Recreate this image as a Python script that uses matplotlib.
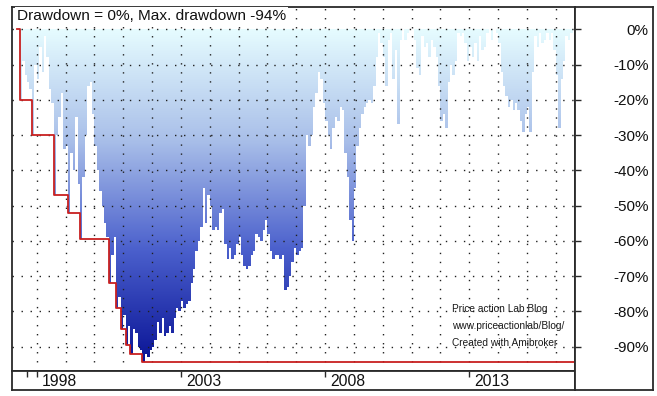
import numpy as np
import pandas as pd
import matplotlib
matplotlib.use("Agg")
import matplotlib.pyplot as plt
from matplotlib.colors import LinearSegmentedColormap
from matplotlib.path import Path
from matplotlib.transforms import blended_transform_factory

plt.rcParams['font.family'] = ['Liberation Sans', 'DejaVu Sans']

# monthly drawdown in %, one value per month starting May 1997
first_month = '1997-05'
drawdown = [
    0, -20, -9, -13, -15, -17, -30, -10, -14, -5, -12, -2, -8, -17, -21, -47,
    -30, -25, -18, -34, -33, -52, -35, -40, -25, -44, -59.5, -42, -30, -16, -15, -24,
    -33, -40, -46, -50, -55, -59, -72, -64, -59, -79, -76, -85, -81, -89.5, -84, -92,
    -85, -86, -90, -91, -94.2, -92, -93, -91, -90, -88, -83, -86, -82, -87, -86, -84,
    -86, -82, -79, -80, -77, -79, -78, -77, -72, -68, -63, -60, -56, -45, -55, -47,
    -50, -57, -56, -57, -52, -51, -61, -65, -62, -65, -64, -61, -59, -64, -67, -68,
    -67, -64, -63, -58, -59, -60, -57, -54, -58, -63, -65, -64, -64, -65, -64, -74,
    -73, -70, -66, -62, -64, -63, -62, -50, -30, -33, -30, -22, -18, -12, -14, -21,
    -26, -30, -34, -28, -25, -26, -22, -23, -35, -42, -54, -60, -45, -33, -28, -24,
    -22, -21, -20, -21, -16, -8, -1, -4, -8, -16, -3, -1, -14, -6, -27, -3,
    0, -3, -1, 0, 0, -3, -11, -13, -2, -5, -4, -8, -3, -5, -8, -16,
    -26, -24, -28, -15, -10, -13, -9, -1, -2, -1, -4, -9, -5, -8, -4, -9,
    -2, -6, -5, -1, 0, -3, 0, -1, -4, -12, -16, -19, -22, -20, -23, -21,
    -23, -26, -29, -24, -22, -29, -12, -2, -5, -1, -4, -3, -1, -3, -1, -6,
    -13, -28, -14, -9, -2, -3, -1, 0,
]

label_years = [1998, 2003, 2008, 2013]
extra_ticks = [1997.65]
grid_years = list(range(1998, 2017))
pct_ticks = [0, -10, -20, -30, -40, -50, -60, -70, -80, -90]
title = 'Drawdown = 0%, Max. drawdown -94%'
credits = ['Price action Lab Blog', 'www.priceactionlab/Blog/', 'Created with Amibroker']

months = pd.period_range(first_month, periods=len(drawdown), freq='M')
t = np.asarray(months.year + (months.month - 1) / 12.0, dtype=float)
dd = np.array(drawdown, dtype=float)
max_dd = np.minimum.accumulate(dd)

W, H = 657, 396
fig = plt.figure(figsize=(W / 100, H / 100), dpi=100)


def box(left, top, right, bottom):
    return [left / W, 1 - bottom / H, (right - left) / W, (bottom - top) / H]


ax = fig.add_axes(box(12.3, 7, 575, 370.7))
axx = fig.add_axes(box(12.3, 370.7, 575, 390))
axr = fig.add_axes(box(575, 7, 653, 390))

xlim = (1997.154, 2016.665)
ylim = (-96.8, 6.3)
frame = '#2a2a2a'

# gradient filled drawdown area
area = ax.fill_between(t, dd, 0, step='post', facecolor='none', edgecolor='none', lw=0)
clip = Path.make_compound_path(*area.get_paths())
cmap = LinearSegmentedColormap.from_list('dd', ['#e6fcff', '#a9bfe9', '#4a5fcc', '#0a1496'])
img = ax.imshow(np.linspace(0, 1, 256).reshape(-1, 1), cmap=cmap, aspect='auto',
                extent=(t[0], t[-1] + 1 / 12, dd.min(), 0), origin='upper',
                interpolation='bilinear', zorder=1)
img.set_clip_path(clip, transform=ax.transData)

# running max drawdown
ax.step(np.append(t, xlim[1]), np.append(max_dd, max_dd[-1]), where='post',
        color='#c82020', lw=1.3, zorder=4)

ax.set_xlim(xlim)
ax.set_ylim(ylim)
ax.set_xticks(grid_years)
ax.set_yticks(pct_ticks)
ax.tick_params(length=0, labelbottom=False, labelleft=False)
ax.set_axisbelow(False)
ax.grid(True, color='#202020', linestyle=(0, (1, 5.5)), linewidth=1.0, zorder=3)

ax.text(0.0085, 0.975, title, transform=ax.transAxes, ha='left', va='center',
        fontsize=11.1, color='#111111', zorder=6,
        bbox=dict(facecolor='white', edgecolor='none', pad=1.5))

for i, line in enumerate(credits):
    ax.text(0.782, 0.17 - i * 0.0475, line, transform=ax.transAxes, ha='left', va='center',
            fontsize=7.3, color='#1a1a1a', zorder=6)

# date panel
axx.set_xlim(xlim)
axx.set_ylim(0, 1)
axx.set_xticks(label_years)
axx.set_xticks(extra_ticks, minor=True)
axx.set_yticks([])
axx.tick_params(axis='x', which='both', direction='in', top=True, bottom=False,
                labelbottom=False, length=4.5, width=1, color=frame)
trans = blended_transform_factory(axx.transData, axx.transAxes)
for yr in label_years:
    axx.annotate(str(yr), (yr, 0.45), xycoords=trans, xytext=(3.5, 0),
                 textcoords='offset points', ha='left', va='center', fontsize=11.3, color='#111111')

# percent panel
span = (ylim[1] - ylim[0]) * (390 - 7) / (370.7 - 7)
axr.set_ylim(ylim[1] - span, ylim[1])
axr.set_xlim(0, 1)
axr.set_xticks([])
axr.set_yticks(pct_ticks)
axr.set_yticklabels([f'{v}%' for v in pct_ticks])
axr.tick_params(axis='y', direction='in', left=True, right=False, labelleft=False,
                labelright=True, length=4.5, width=1, color=frame, pad=-3,
                labelsize=11, labelcolor='#111111')
for lbl in axr.get_yticklabels():
    lbl.set_horizontalalignment('right')

for a in (ax, axx, axr):
    for s in a.spines.values():
        s.set_color(frame)
        s.set_linewidth(1.3)

fig.savefig('out.png', dpi=100, facecolor='white')
